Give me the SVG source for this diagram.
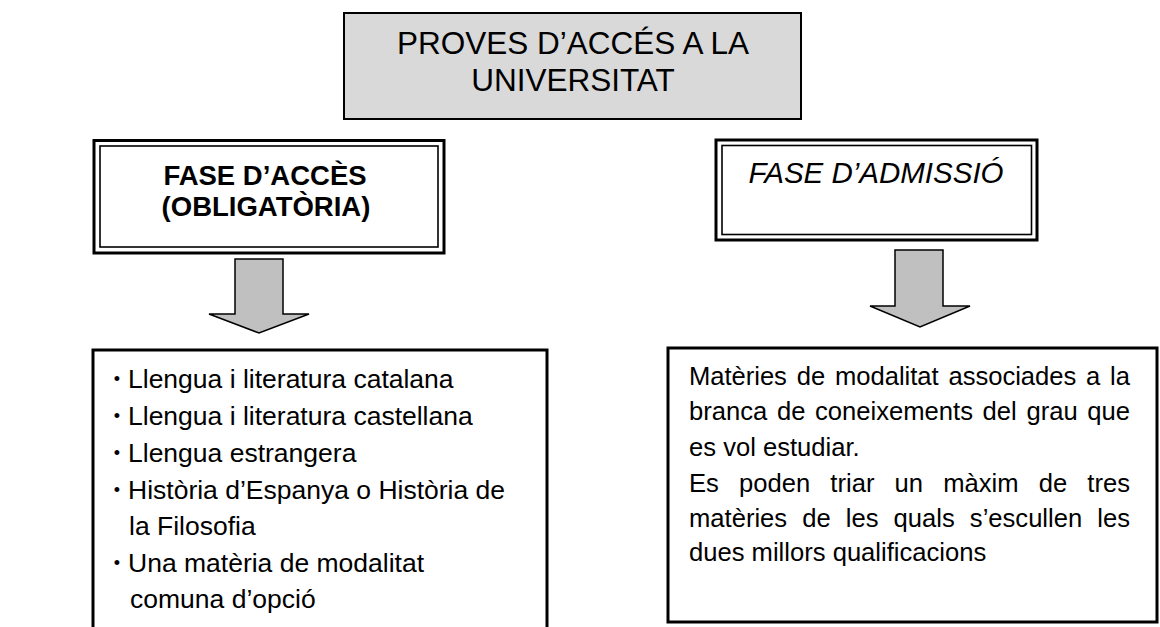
<svg xmlns="http://www.w3.org/2000/svg" width="1160" height="627" viewBox="0 0 1160 627">
<style>
  text { font-family: "Liberation Sans", Arial, sans-serif; fill: #000; }
  .title { font-size: 31.5px; text-anchor: middle; }
  .bold { font-size: 27.5px; font-weight: bold; text-anchor: middle; }
  .ital { font-size: 29.5px; font-style: italic; text-anchor: middle; }
  .list { font-size: 26.5px; }
  .bul { font-size: 18px; text-anchor: middle; }
  .para { font-size: 25.6px; }
  .outer { fill: #fff; stroke: #000; stroke-width: 3; }
  .inner { fill: none; stroke: #000; stroke-width: 1.6; }
  .box { fill: #fff; stroke: #000; stroke-width: 3; }
  .arrow { fill: #c0c0c0; stroke: #000; stroke-width: 1.5; stroke-linejoin: miter; }
</style>
<rect width="1160" height="627" fill="#fff"/>

<g id="title">
  <rect x="344" y="13" width="457" height="106" fill="#d9d9d9" stroke="#000" stroke-width="2"/>
  <text class="title" x="573" y="54">PROVES D’ACCÉS A LA</text>
  <text class="title" x="573" y="91">UNIVERSITAT</text>
</g>

<g id="fase-acces">
  <rect class="outer" x="94" y="140.5" width="350" height="112.5"/>
  <rect class="inner" x="100" y="146" width="338" height="101"/>
  <text class="bold" x="265" y="185">FASE D’ACCÈS</text>
  <text class="bold" x="266" y="216">(OBLIGATÒRIA)</text>
</g>

<g id="fase-admissio">
  <rect class="outer" x="716" y="140" width="321" height="100"/>
  <rect class="inner" x="722" y="145.5" width="309.5" height="89"/>
  <text class="ital" x="876" y="183">FASE D’ADMISSIÓ</text>
</g>

<g id="connectors">
  <polygon class="arrow" points="235,259 283,259 283,314 309,314 259,333 209,314 235,314"/>
  <polygon class="arrow" points="895,250 943,250 943,306 970,306 920,327 870,306 895,306"/>
</g>

<g id="llista-acces">
  <rect class="box" x="93" y="350" width="454" height="300"/>
  <text class="bul" x="117" y="385">•</text>
  <text class="list" x="128" y="388">Llengua i literatura catalana</text>
  <text class="bul" x="117" y="422">•</text>
  <text class="list" x="128" y="425">Llengua i literatura castellana</text>
  <text class="bul" x="117" y="459">•</text>
  <text class="list" x="128" y="462">Llengua estrangera</text>
  <text class="bul" x="117" y="496">•</text>
  <text class="list" x="128" y="499">Història d’Espanya o Història de</text>
  <text class="list" x="129" y="535">la Filosofia</text>
  <text class="bul" x="117" y="569">•</text>
  <text class="list" x="128" y="572">Una matèria de modalitat</text>
  <text class="list" x="130" y="608">comuna d’opció</text>
</g>

<g id="llista-admissio">
  <rect class="box" x="668" y="348" width="489" height="274"/>
  <text class="para" x="689" y="385" word-spacing="2.8" textLength="441" lengthAdjust="spacing">Matèries de modalitat associades a la</text>
  <text class="para" x="689" y="420" word-spacing="2.5" textLength="441" lengthAdjust="spacing">branca de coneixements del grau que</text>
  <text class="para" x="689" y="456">es vol estudiar.</text>
  <text class="para" x="689" y="492" word-spacing="13" textLength="441" lengthAdjust="spacing">Es poden triar un màxim de tres</text>
  <text class="para" x="689" y="527" word-spacing="8" textLength="441" lengthAdjust="spacing">matèries de les quals s’escullen les</text>
  <text class="para" x="689" y="561">dues millors qualificacions</text>
</g>
</svg>
